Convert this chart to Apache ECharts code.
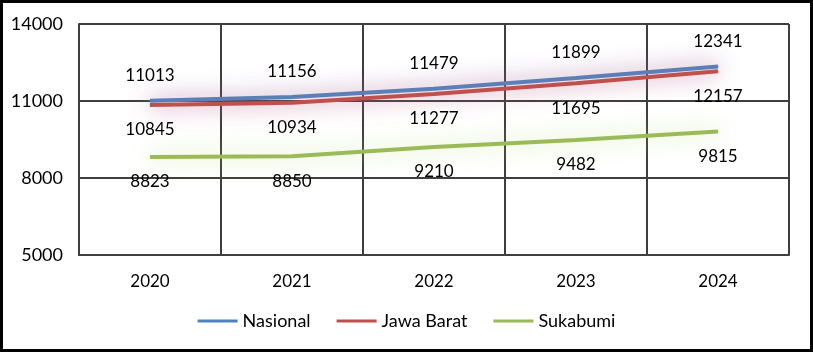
<!DOCTYPE html>
<html>
<head>
<meta charset="utf-8">
<script src="https://cdn.jsdelivr.net/npm/echarts@6/dist/echarts.min.js"></script>
<style>
  html, body { margin: 0; padding: 0; background: #fff; }
  #main { width: 813px; height: 352px; box-sizing: border-box; border: 3px solid #000; }
</style>
</head>
<body>
<div id="main"></div>
<script>
const years = ['2020', '2021', '2022', '2023', '2024'];
const nasional = [11013, 11156, 11479, 11899, 12341];
const jawaBarat = [10845, 10934, 11277, 11695, 12157];
const sukabumi = [8823, 8850, 9210, 9482, 9815];

const font = 'Lato';
const gridColor = '#3f3f3f';

function lineSeries(name, data, color, glow, pos) {
  return {
    name: name,
    type: 'line',
    data: data,
    symbol: 'circle',
    symbolSize: 1,
    showSymbol: true,
    lineStyle: {
      width: 4,
      color: color,
      shadowColor: glow,
      shadowBlur: 22
    },
    itemStyle: { color: color },
    label: {
      show: true,
      position: pos,
      distance: 16,
      color: '#000',
      fontSize: 17,
      fontFamily: font
    }
  };
}

const chart = echarts.init(document.getElementById('main'));
chart.setOption({
  animation: false,
  backgroundColor: '#fff',
  grid: { left: 76, top: 21, width: 710, height: 231 },
  legend: {
    bottom: 14,
    left: 'center',
    icon: 'rect',
    itemWidth: 40,
    itemHeight: 3,
    itemGap: 26,
    textStyle: { fontSize: 18, fontFamily: font, color: '#000' },
    data: ['Nasional', 'Jawa Barat', 'Sukabumi']
  },
  xAxis: {
    type: 'category',
    data: years,
    boundaryGap: true,
    axisTick: { show: false },
    axisLine: { lineStyle: { color: gridColor, width: 2 } },
    axisLabel: { color: '#000', fontSize: 17, fontFamily: font, margin: 18 },
    splitLine: { show: true, lineStyle: { color: gridColor, width: 2 } }
  },
  yAxis: {
    type: 'value',
    min: 5000,
    max: 14000,
    interval: 3000,
    axisTick: { show: false },
    axisLine: { show: true, lineStyle: { color: gridColor, width: 2 } },
    axisLabel: {
      color: '#000', fontSize: 18, fontFamily: font, margin: 16,
      formatter: function (v) { return String(v); }
    },
    splitLine: { show: true, lineStyle: { color: gridColor, width: 2 } }
  },
  series: [
    lineSeries('Nasional', nasional, '#4f81bd', 'rgba(128,100,162,0.8)', 'top'),
    lineSeries('Jawa Barat', jawaBarat, '#c0504d', 'rgba(230,110,130,0.7)', 'bottom'),
    lineSeries('Sukabumi', sukabumi, '#9bbb59', 'rgba(170,215,100,0.7)', 'bottom')
  ]
});
</script>
</body>
</html>
